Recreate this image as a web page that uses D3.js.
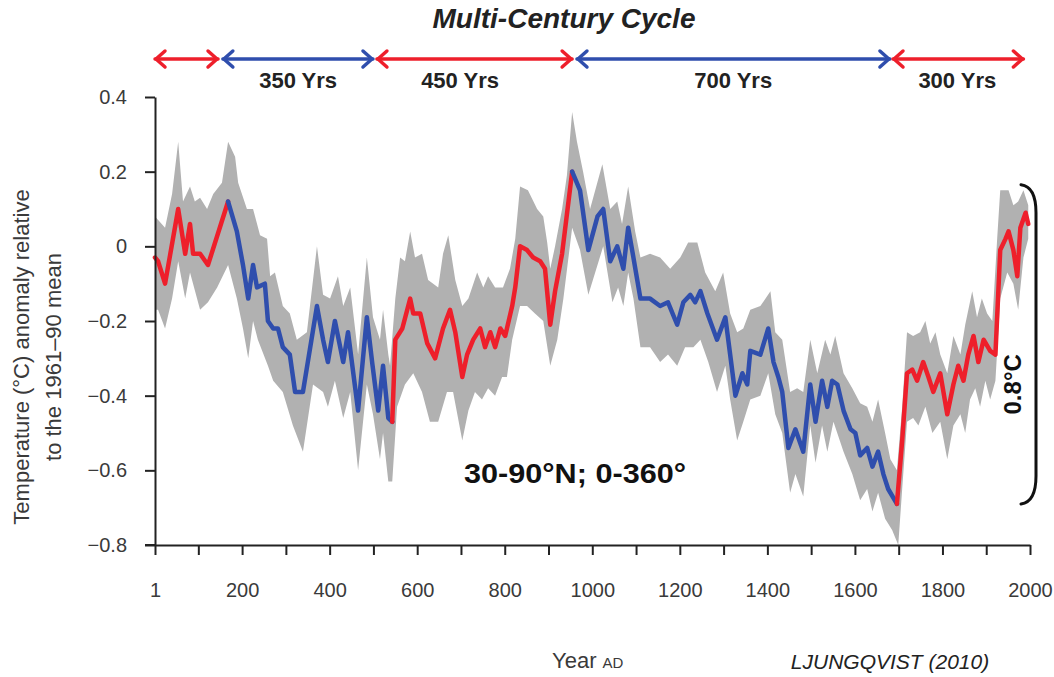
<!DOCTYPE html>
<html><head><meta charset="utf-8">
<script src="https://cdn.jsdelivr.net/npm/d3@7"></script>
<style>
body{margin:0;background:#fff}
svg{display:block}
text{font-family:"Liberation Sans",Arial,Helvetica,sans-serif}
</style>
</head><body>
<svg id="c" width="1054" height="677"></svg>
<script>
// ---- data ----
const meanYears = [1,8,24,54,70,81,88,104,122,168,188,202,214,225,234,252,259,271,282,293,309,321,339,371,385,396,412,431,442,465,485,497,511,522,534,543,550,566,584,591,607,623,641,659,675,687,703,714,728,744,755,767,778,790,801,817,824,835,851,865,881,892,904,915,931,954,972,991,1012,1025,1041,1057,1071,1082,1094,1110,1132,1155,1173,1194,1208,1224,1235,1247,1263,1285,1304,1315,1327,1343,1354,1361,1384,1402,1414,1425,1434,1448,1464,1482,1498,1510,1525,1537,1548,1560,1574,1590,1601,1612,1628,1640,1653,1665,1676,1696,1708,1719,1731,1742,1756,1768,1779,1795,1811,1825,1836,1848,1859,1871,1882,1894,1909,1921,1932,1944,1951,1962,1971,1978,1990,1996];
const meanValues = [-0.03,-0.04,-0.10,0.10,-0.02,0.06,-0.02,-0.02,-0.05,0.12,0.04,-0.05,-0.14,-0.05,-0.11,-0.10,-0.20,-0.22,-0.22,-0.27,-0.29,-0.39,-0.39,-0.16,-0.25,-0.31,-0.20,-0.31,-0.23,-0.44,-0.19,-0.31,-0.44,-0.32,-0.46,-0.47,-0.25,-0.22,-0.14,-0.18,-0.18,-0.26,-0.30,-0.22,-0.17,-0.23,-0.35,-0.29,-0.25,-0.22,-0.27,-0.23,-0.27,-0.22,-0.24,-0.16,-0.11,0.00,-0.01,-0.03,-0.04,-0.06,-0.21,-0.12,-0.02,0.20,0.15,-0.01,0.08,0.10,-0.04,0.00,-0.06,0.05,-0.03,-0.14,-0.14,-0.16,-0.15,-0.21,-0.15,-0.13,-0.15,-0.12,-0.18,-0.25,-0.19,-0.29,-0.40,-0.34,-0.37,-0.28,-0.29,-0.22,-0.31,-0.35,-0.39,-0.54,-0.49,-0.55,-0.37,-0.47,-0.36,-0.43,-0.36,-0.37,-0.44,-0.49,-0.50,-0.56,-0.54,-0.59,-0.55,-0.61,-0.65,-0.69,-0.52,-0.34,-0.33,-0.36,-0.31,-0.35,-0.39,-0.34,-0.45,-0.37,-0.32,-0.36,-0.29,-0.24,-0.31,-0.25,-0.28,-0.29,-0.01,0.02,0.04,-0.01,-0.08,0.05,0.09,0.06];

const upperYears = [1,24,40,54,65,81,92,104,120,134,154,168,184,191,211,225,241,257,264,275,293,309,325,348,371,385,401,419,431,447,465,485,499,515,522,534,538,550,561,572,584,595,611,625,648,659,671,687,703,717,737,751,762,778,796,812,824,835,853,874,888,897,904,915,931,942,954,965,979,995,1023,1041,1057,1068,1082,1098,1110,1132,1155,1178,1201,1219,1240,1258,1281,1299,1315,1331,1345,1361,1384,1407,1418,1434,1452,1468,1482,1498,1514,1532,1544,1555,1574,1594,1612,1628,1640,1653,1669,1681,1696,1708,1719,1733,1749,1761,1772,1784,1795,1811,1825,1841,1852,1868,1879,1890,1902,1914,1925,1932,1951,1962,1973,1985,1996];
const upperValues = [0.08,0.05,0.14,0.28,0.12,0.16,0.12,0.13,0.10,0.14,0.17,0.28,0.24,0.17,0.10,0.10,0.03,0.02,-0.08,-0.07,-0.16,-0.18,-0.25,-0.23,0.00,-0.13,-0.14,-0.08,-0.16,-0.11,-0.29,-0.03,-0.19,-0.25,-0.17,-0.29,-0.32,-0.14,-0.03,-0.04,0.04,-0.03,-0.02,-0.09,-0.11,-0.02,0.03,-0.09,-0.16,-0.14,-0.07,-0.11,-0.08,-0.11,-0.11,-0.06,0.02,0.16,0.15,0.10,0.08,0.01,-0.06,0.00,0.10,0.19,0.36,0.28,0.20,0.10,0.22,0.10,0.12,0.06,0.16,0.04,-0.03,-0.02,-0.03,-0.06,-0.03,0.01,0.01,-0.07,-0.12,-0.07,-0.18,-0.23,-0.22,-0.17,-0.16,-0.12,-0.23,-0.25,-0.39,-0.38,-0.39,-0.25,-0.34,-0.25,-0.29,-0.24,-0.34,-0.38,-0.42,-0.43,-0.47,-0.41,-0.50,-0.57,-0.60,-0.43,-0.23,-0.24,-0.23,-0.20,-0.26,-0.23,-0.29,-0.34,-0.24,-0.29,-0.21,-0.12,-0.19,-0.14,-0.18,-0.20,0.02,0.15,0.15,0.11,0.12,0.15,0.11];

const lowerYears = [1,8,24,40,54,70,81,104,122,143,168,188,202,214,225,236,259,271,293,316,339,362,385,396,412,431,447,465,485,499,515,522,534,543,554,572,591,611,629,648,668,682,703,717,732,748,762,778,794,805,817,835,851,869,888,904,920,934,954,972,991,1025,1046,1059,1071,1082,1094,1110,1132,1155,1173,1194,1212,1231,1247,1265,1285,1304,1315,1331,1345,1361,1384,1402,1418,1434,1452,1464,1482,1498,1510,1525,1537,1551,1574,1594,1612,1628,1640,1653,1669,1685,1699,1708,1719,1733,1745,1761,1777,1795,1811,1825,1841,1852,1863,1875,1886,1898,1909,1921,1932,1948,1962,1973,1985,1996];
const lowerValues = [-0.17,-0.17,-0.22,-0.14,-0.04,-0.14,-0.07,-0.17,-0.15,-0.11,-0.05,-0.14,-0.22,-0.30,-0.20,-0.25,-0.32,-0.36,-0.39,-0.48,-0.55,-0.37,-0.39,-0.43,-0.36,-0.46,-0.39,-0.60,-0.37,-0.45,-0.57,-0.50,-0.63,-0.63,-0.43,-0.37,-0.34,-0.39,-0.47,-0.47,-0.39,-0.39,-0.52,-0.44,-0.39,-0.41,-0.38,-0.40,-0.35,-0.35,-0.25,-0.16,-0.16,-0.18,-0.20,-0.32,-0.25,-0.14,0.05,-0.01,-0.13,0.00,-0.15,-0.11,-0.16,-0.07,-0.14,-0.27,-0.27,-0.31,-0.29,-0.32,-0.27,-0.27,-0.25,-0.31,-0.39,-0.32,-0.41,-0.52,-0.47,-0.41,-0.40,-0.34,-0.45,-0.50,-0.66,-0.61,-0.67,-0.48,-0.58,-0.48,-0.55,-0.47,-0.55,-0.61,-0.68,-0.65,-0.71,-0.66,-0.73,-0.76,-0.80,-0.65,-0.47,-0.46,-0.48,-0.43,-0.50,-0.47,-0.57,-0.48,-0.45,-0.50,-0.41,-0.38,-0.43,-0.36,-0.41,-0.36,-0.14,-0.07,-0.10,-0.17,-0.03,0.02];

// colour segments of the reconstruction (warm = red, cool = blue)
const segmentBreaks = [1,168,543,954,1696,2000];
const segmentPhases = ["warm","cool","warm","cool","warm"];

// multi-century cycle arrows
const cycleStarts = [1,156,508,965,1687];
const cycleEnds   = [145,499,954,1680,1985];
const cyclePhases = ["warm","cool","warm","cool","warm"];
const cycleLabels = ["","350 Yrs","450 Yrs","700 Yrs","300 Yrs"];
const cycleLabelYears = [73,328,698,1322,1834];

const xTickValues = d3.range(0,2001,100).map(d => d === 0 ? 1 : d);
const xLabelValues = [1,200,400,600,800,1000,1200,1400,1600,1800,2000];
const yTickValues = [-0.8,-0.6,-0.4,-0.2,0,0.2,0.4];
const bracketValues = [0.165,-0.69];

// ---- drawing ----
const colors = {warm:"#ee1f2b", cool:"#2f4ead"};
const svg = d3.select("#c");
const x = d3.scaleLinear().domain([1,2000]).range([155,1030]);
const y = d3.scaleLinear().domain([-0.8,0.4]).range([545,97]);

// uncertainty band
const upper = upperYears.map((yr,i)=>[yr,upperValues[i]]);
const lower = lowerYears.map((yr,i)=>[yr,lowerValues[i]]);
const bandPts = upper.concat(lower.slice().reverse());
const ln = d3.line().x(d=>x(d[0])).y(d=>y(d[1]));
svg.append("path").attr("d", ln(bandPts)+"Z").attr("fill","#b1b1b1").attr("stroke","none");

// mean line, coloured by phase
const mean = meanYears.map((yr,i)=>[yr,meanValues[i]]);
segmentPhases.forEach((ph,i)=>{
  const seg = mean.filter(d=>d[0]>=segmentBreaks[i] && d[0]<=segmentBreaks[i+1]);
  svg.append("path").attr("d", ln(seg)).attr("fill","none")
    .attr("stroke", colors[ph]).attr("stroke-width",4.5)
    .attr("stroke-linejoin","round").attr("stroke-linecap","round");
});

// axes
const yAxis = svg.append("g").attr("transform","translate(155,0)")
  .call(d3.axisLeft(y).tickValues(yTickValues).tickSize(10).tickSizeOuter(0).tickPadding(18)
    .tickFormat(d => d === 0 ? "0" : d3.format(".1f")(d)));
const xAxis = svg.append("g").attr("transform","translate(0,545)")
  .call(d3.axisBottom(x).tickValues(xTickValues).tickSize(10).tickSizeOuter(0).tickPadding(28)
    .tickFormat(d => xLabelValues.includes(d) ? String(d) : ""));
[yAxis,xAxis].forEach(g=>{
  g.select(".domain").attr("stroke","#222").attr("stroke-width",2);
  g.selectAll(".tick line").attr("stroke","#222").attr("stroke-width",2);
  g.selectAll(".tick text").attr("fill","#3a3a3a").style("font-size","20px")
    .style("font-family","'Liberation Sans',Arial,sans-serif");
});
// extend x baseline to the left tick
xAxis.append("line").attr("x1",145).attr("x2",155).attr("y1",0).attr("y2",0)
  .attr("stroke","#222").attr("stroke-width",2);

// cycle arrows
const ay = 59;
cycleStarts.forEach((s,i)=>{
  const x1 = x(s), x2 = x(cycleEnds[i]), c = colors[cyclePhases[i]];
  const g = svg.append("g").attr("stroke",c).attr("fill","none")
    .attr("stroke-width",3.5).attr("stroke-linecap","round").attr("stroke-linejoin","round");
  g.append("line").attr("x1",x1).attr("x2",x2).attr("y1",ay).attr("y2",ay);
  g.append("path").attr("d",`M${x1+10},${ay-8}L${x1+1},${ay}L${x1+10},${ay+8}`);
  g.append("path").attr("d",`M${x2-10},${ay-8}L${x2-1},${ay}L${x2-10},${ay+8}`);
  if (cycleLabels[i]) {
    svg.append("text").attr("x",x(cycleLabelYears[i])).attr("y",88)
      .attr("text-anchor","middle").attr("font-weight","bold").attr("font-size",22)
      .attr("fill","#222").text(cycleLabels[i]);
  }
});

// title
svg.append("text").attr("x",564).attr("y",28).attr("text-anchor","middle")
  .attr("font-weight","bold").attr("font-style","italic").attr("font-size",28)
  .attr("fill","#222").text("Multi-Century Cycle");

// region label
svg.append("text").attr("x",575).attr("y",483).attr("text-anchor","middle")
  .attr("font-weight","bold").attr("font-size",28).attr("fill","#111")
  .attr("textLength",222).attr("lengthAdjust","spacingAndGlyphs")
  .text("30-90°N; 0-360°");

// 0.8°C bracket
const by1 = y(bracketValues[0]), by2 = y(bracketValues[1]);
svg.append("path")
  .attr("d",`M1021,${by1} Q1036,${by1+2} 1036,${by1+28} L1036,${by2-28} Q1036,${by2-2} 1021,${by2}`)
  .attr("fill","none").attr("stroke","#111").attr("stroke-width",3).attr("stroke-linecap","round");
svg.append("text").attr("transform",`translate(1021,${(by1+by2)/2+40}) rotate(-90)`)
  .attr("text-anchor","middle").attr("font-weight","bold").attr("font-size",24)
  .attr("fill","#111").text("0.8°C");

// y axis title
const yt = svg.append("g").attr("transform","translate(0,357)");
yt.append("text").attr("transform","translate(29,0) rotate(-90)").attr("text-anchor","middle")
  .attr("font-size",22).attr("fill","#3a3a3a").text("Temperature (°C) anomaly relative");
yt.append("text").attr("transform","translate(61,0) rotate(-90)").attr("text-anchor","middle")
  .attr("font-size",22).attr("fill","#3a3a3a").text("to the 1961–90 mean");

// x axis title
const xt = svg.append("text").attr("x",552).attr("y",668).attr("fill","#3a3a3a");
xt.append("tspan").attr("font-size",22).text("Year ");
xt.append("tspan").attr("font-size",15).text("AD");

// source
svg.append("text").attr("x",890).attr("y",669).attr("text-anchor","middle")
  .attr("font-style","italic").attr("font-size",21).attr("fill","#222")
  .text("LJUNGQVIST (2010)");
</script>
</body></html>
